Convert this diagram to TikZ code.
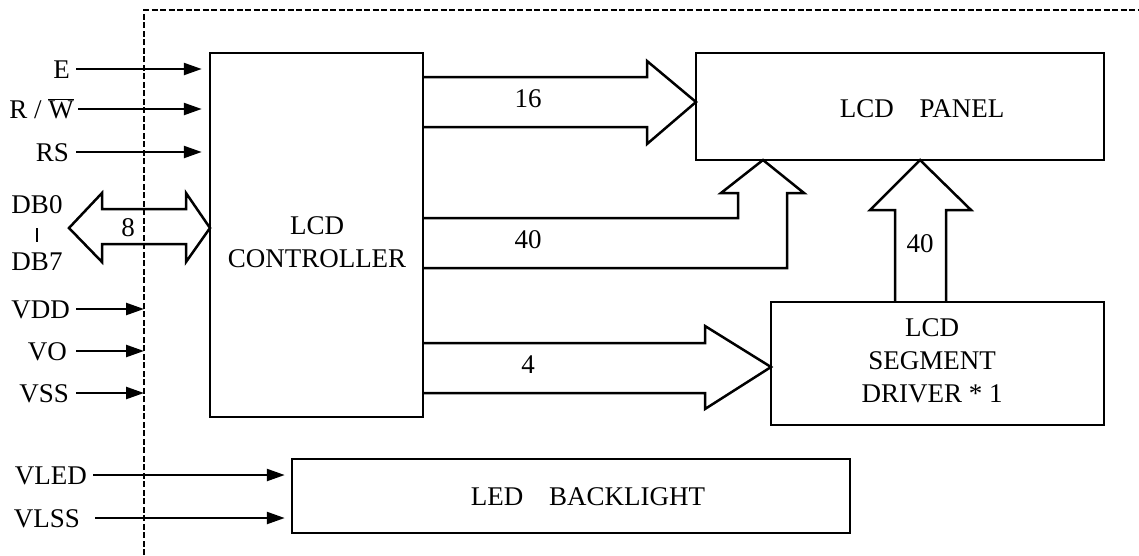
\documentclass[tikz,border=0pt]{standalone}
\usepackage{fontspec}
\setmainfont{Liberation Serif}
\usetikzlibrary{arrows.meta,positioning}

\begin{document}
\begin{tikzpicture}[x=1pt,y=-1pt,
    every node/.style={font=\fontsize{27}{33}\selectfont},
    blk/.style={draw,line width=2.5pt,inner sep=0pt},
    pinlbl/.style={anchor=east,inner sep=2pt,text height=18pt,text depth=0pt},
    sig/.style={line width=2.4pt,-{Triangle[length=18pt,width=12pt]}},
    bus/.style={line width=2.5pt,line join=miter},
    bnd/.style={line width=1.5pt,dash pattern=on 6pt off 2.5pt}]
    \useasboundingbox (0,0) rectangle (1139,555);

    % module boundary
    \coordinate (bcorner) at (144,10);
    \coordinate (bbottom) at (144,555);
    \coordinate (bright) at (1139,10);
    \draw[bnd] (bbottom) -- (bcorner) -- (bright);

    % blocks
    \node[blk,minimum width=213pt,minimum height=364pt] (ctrl) at (316.5,235) {};
    \node[align=center] (ctrltxt) at (317,242) {LCD\\CONTROLLER};
    \node[blk,minimum width=408pt,minimum height=107pt] (panel) at (900,106.5) {};
    \node (paneltxt) at (922,109) {LCD\hspace{26pt}PANEL};
    \node[blk,minimum width=333pt,minimum height=123pt] (seg) at (937.5,363.5) {};
    \node[align=center] (segtxt) at (932,361) {LCD\\SEGMENT\\DRIVER * 1};
    \node[blk,minimum width=558pt,minimum height=74pt] (led) at (571,496) {};
    \node (ledtxt) at (588,497) {LED\hspace{26pt}BACKLIGHT};

    % interface pins
    \node[pinlbl] (lE) at (72,69) {E};
    \node[pinlbl] (lRW) at (76,109) {R / $\overline{\mbox{W}}$};
    \node[pinlbl] (lRS) at (71,152) {RS};
    \node[pinlbl,anchor=center] (lDB0) at (37,204) {DB0};
    \node[pinlbl,anchor=center] (lDB7) at (37,261) {DB7};
    \node[pinlbl] (lVDD) at (72,309) {VDD};
    \node[pinlbl] (lVO) at (69,351) {VO};
    \node[pinlbl] (lVSS) at (71,393) {VSS};
    \node[pinlbl] (lVLED) at (89,475) {VLED};
    \node[pinlbl] (lVLSS) at (82,518) {VLSS};
    \draw[line width=2.5pt,shorten <=13pt,shorten >=8pt] (lDB0.south) -- (lDB7.north);

    \draw[sig,shorten <=4pt,shorten >=7pt] (lE.east) -- (lE.east -| ctrl.west);
    \draw[sig,shorten <=2pt,shorten >=7pt] (lRW.east) -- (lRW.east -| ctrl.west);
    \draw[sig,shorten <=5pt,shorten >=7pt] (lRS.east) -- (lRS.east -| ctrl.west);
    \draw[sig,shorten <=4pt] (lVDD.east) -- (lVDD.east -| bcorner);
    \draw[sig,shorten <=7pt] (lVO.east) -- (lVO.east -| bcorner);
    \draw[sig,shorten <=5pt] (lVSS.east) -- (lVSS.east -| bcorner);
    \draw[sig,shorten <=4pt,shorten >=6pt] (lVLED.east) -- (lVLED.east -| led.west);
    \draw[sig,shorten <=6pt,shorten >=6pt] (lVLED.east |- lVLSS.east) -- (lVLSS.east -| led.west);

    % bus arrows
    \coordinate (tdb) at (210,228);
    \coordinate (t16) at (696,102);
    \coordinate (t40a) at (763,160);
    \coordinate (t4) at (771,367);
    \coordinate (t40b) at (920,160);
    \draw[bus] (69,228) -- (102,193) -- (102,209) -- (186,209) -- (186,193) -- (tdb)
      -- (186,262) -- (186,244) -- (102,244) -- (102,262) -- cycle;
    \node (n8) at (128,228) {8};
    \draw[bus] (423,77) -- (647,77) -- (647,61) -- (t16) -- (647,144) -- (647,127) -- (423,127);
    \node (n16) at (528,99) {16};
    \draw[bus] (423,218) -- (738,218) -- (738,193) -- (721,193) -- (t40a) -- (804,193)
      -- (787,193) -- (787,268) -- (423,268);
    \node (n40a) at (528,240) {40};
    \draw[bus] (423,343) -- (705,343) -- (705,326) -- (t4) -- (705,409) -- (705,393) -- (423,393);
    \node (n4) at (528,365) {4};
    \draw[bus] (895,302) -- (895,210) -- (870,210) -- (t40b) -- (971,210) -- (946,210) -- (946,302);
    \node (n40b) at (920,244) {40};
\end{tikzpicture}
\end{document}
